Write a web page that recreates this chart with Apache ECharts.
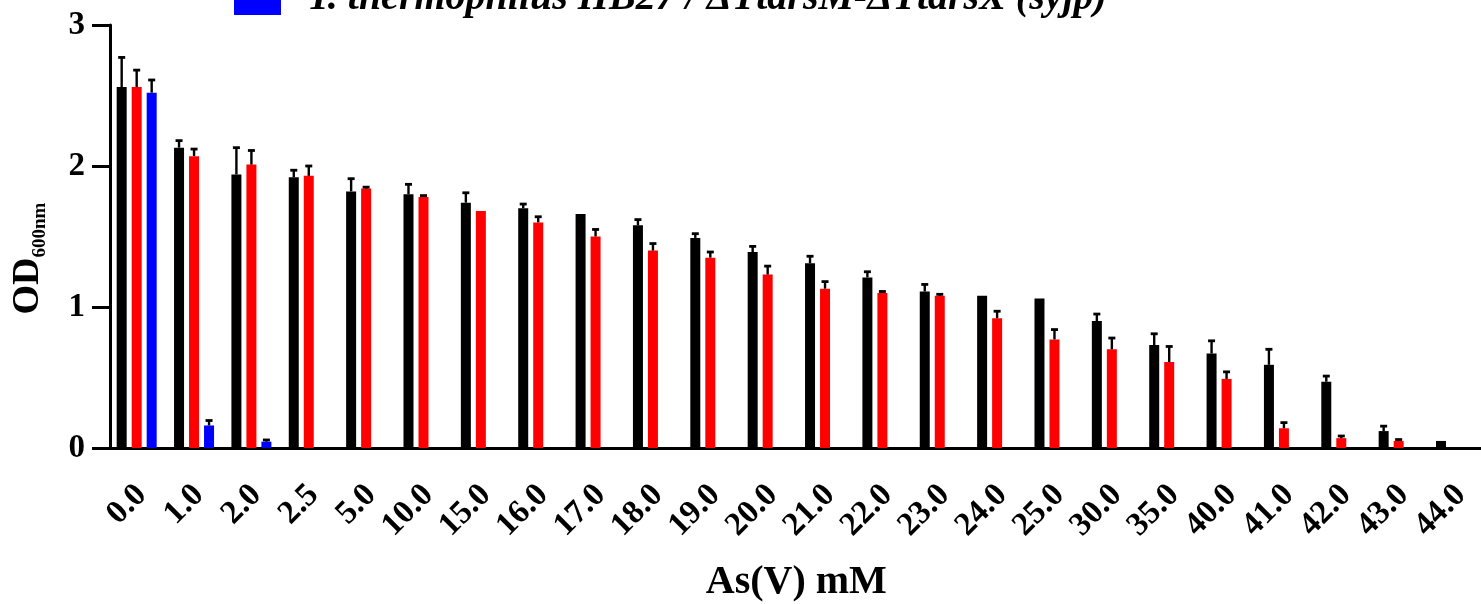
<!DOCTYPE html>
<html>
<head>
<meta charset="utf-8">
<script src="https://cdn.jsdelivr.net/npm/echarts@6/dist/echarts.min.js"></script>
<style>
  html, body { margin: 0; padding: 0; background: #fff; }
  #chart { width: 1481px; height: 604px; }
</style>
</head>
<body>
<div id="chart"></div>
<script>
// As(V) concentrations (mM)
const categories = ['0.0','1.0','2.0','2.5','5.0','10.0','15.0','16.0','17.0','18.0','19.0','20.0',
  '21.0','22.0','23.0','24.0','25.0','30.0','35.0','40.0','41.0','42.0','43.0','44.0'];

// OD600 means and SD (upper error) per strain
const blackMean = [2.56, 2.13, 1.94, 1.92, 1.82, 1.80, 1.74, 1.70, 1.66, 1.58, 1.49, 1.39,
  1.31, 1.21, 1.11, 1.08, 1.06, 0.90, 0.73, 0.67, 0.59, 0.47, 0.12, 0.05];
const blackErr = [0.21, 0.05, 0.19, 0.05, 0.09, 0.07, 0.07, 0.03, 0, 0.04, 0.03, 0.04,
  0.05, 0.04, 0.05, 0, 0, 0.05, 0.08, 0.09, 0.11, 0.04, 0.035, 0];

const redMean = [2.56, 2.07, 2.01, 1.93, 1.84, 1.78, 1.68, 1.60, 1.50, 1.40, 1.35, 1.23,
  1.13, 1.10, 1.08, 0.92, 0.77, 0.70, 0.61, 0.49, 0.14, 0.07, 0.05, null];
const redErr = [0.12, 0.05, 0.10, 0.07, 0.01, 0.01, 0, 0.04, 0.05, 0.05, 0.04, 0.06,
  0.05, 0.01, 0.01, 0.05, 0.07, 0.08, 0.11, 0.05, 0.04, 0.015, 0.01, null];

const blueMean = [2.52, 0.16, 0.045, null, null, null, null, null, null, null, null, null,
  null, null, null, null, null, null, null, null, null, null, null, null];
const blueErr = [0.09, 0.035, 0.012, null, null, null, null, null, null, null, null, null,
  null, null, null, null, null, null, null, null, null, null, null, null];

const yTicks = [0, 1, 2, 3];

const blueName = 'T. thermophilus HB27 / \u0394TtarsM-\u0394TtarsX (syjp)';
const FONT = "'Liberation Serif', 'Times New Roman', serif";
const BAR_W = 10;
const BAR_GAP = 0.5;

// upper-only error bars centred on each bar of a group
function errorSeries(means, errs, slot) {
  const data = [];
  means.forEach((m, i) => {
    if (m != null && errs[i] != null && errs[i] > 0) data.push([i, m, m + errs[i]]);
  });
  return {
    type: 'custom',
    z: 5,
    silent: true,
    data: data,
    renderItem: function (params, api) {
      const shift = (slot - 1) * BAR_W * (1 + BAR_GAP);
      const lo = api.coord([api.value(0), api.value(1)]);
      const hi = api.coord([api.value(0), api.value(2)]);
      const x = lo[0] + shift;
      return {
        type: 'group',
        children: [
          { type: 'line', shape: { x1: x, y1: lo[1], x2: x, y2: hi[1] }, style: { stroke: '#000', lineWidth: 2.4 } },
          { type: 'line', shape: { x1: x - 3.5, y1: hi[1], x2: x + 3.5, y2: hi[1] }, style: { stroke: '#000', lineWidth: 2.8 } }
        ]
      };
    }
  };
}

const chart = echarts.init(document.getElementById('chart'), null, { renderer: 'canvas' });
chart.setOption({
  animation: false,
  backgroundColor: '#fff',
  grid: { left: 108, top: 25, width: 1376.7, bottom: 156, containLabel: false, outerBoundsMode: 'none' },
  legend: {
    data: [blueName],
    left: 234,
    top: -21,
    padding: 0,
    itemWidth: 47,
    itemHeight: 32,
    icon: 'rect',
    selectedMode: false,
    textStyle: {
      fontFamily: FONT, fontSize: 40, fontWeight: 'bold', fontStyle: 'italic',
      color: '#000', padding: [0, 0, 0, 21]
    }
  },
  xAxis: {
    type: 'category',
    data: categories,
    name: 'As(V) mM',
    nameLocation: 'middle',
    nameGap: 115,
    nameTextStyle: { fontFamily: FONT, fontSize: 40, fontWeight: 'bold', color: '#000' },
    axisLine: { lineStyle: { color: '#000', width: 3 } },
    axisTick: { alignWithLabel: true, length: 18, lineStyle: { color: '#000', width: 3 } },
    axisLabel: {
      rotate: 45, interval: 0, margin: 47, padding: [0, -7, 0, 0],
      fontFamily: FONT, fontSize: 33, fontWeight: 'bold', color: '#000'
    },
    splitLine: { show: false }
  },
  yAxis: {
    type: 'value',
    min: yTicks[0],
    max: yTicks[yTicks.length - 1],
    interval: 1,
    offset: -2,
    name: '{a|OD}{b|600nm}',
    nameLocation: 'middle',
    nameGap: 60,
    nameRotate: 90,
    nameTextStyle: {
      padding: [0, 44, 0, 0],
      rich: {
        a: { fontFamily: FONT, fontSize: 38, fontWeight: 'bold', color: '#000', lineHeight: 44 },
        b: { fontFamily: FONT, fontSize: 19, fontWeight: 'bold', color: '#000', lineHeight: 14, verticalAlign: 'bottom' }
      }
    },
    axisLine: { show: true, lineStyle: { color: '#000', width: 3 } },
    axisTick: { show: true, length: 18, lineStyle: { color: '#000', width: 3 } },
    axisLabel: { margin: 25, fontFamily: FONT, fontSize: 33, fontWeight: 'bold', color: '#000' },
    splitLine: { show: false }
  },
  series: [
    { name: 'Strain A', type: 'bar', data: blackMean, barWidth: BAR_W, barGap: (BAR_GAP * 100) + '%',
      itemStyle: { color: '#000000' } },
    { name: 'Strain B', type: 'bar', data: redMean, barWidth: BAR_W, barGap: (BAR_GAP * 100) + '%',
      itemStyle: { color: '#ff0000' } },
    { name: blueName, type: 'bar', data: blueMean, barWidth: BAR_W, barGap: (BAR_GAP * 100) + '%',
      itemStyle: { color: '#0000ff' } },
    errorSeries(blackMean, blackErr, 0),
    errorSeries(redMean, redErr, 1),
    errorSeries(blueMean, blueErr, 2)
  ]
});
</script>
</body>
</html>
